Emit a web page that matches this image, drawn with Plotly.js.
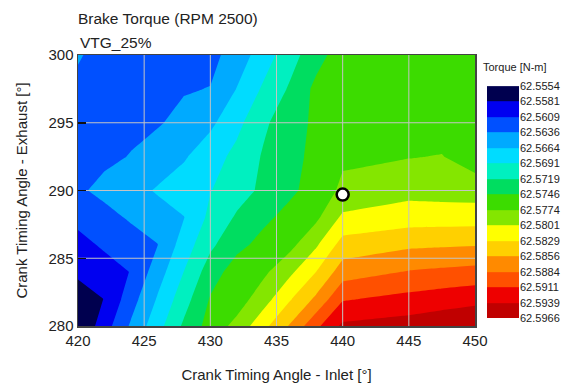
<!DOCTYPE html>
<html><head><meta charset="utf-8">
<script src="https://cdn.plot.ly/plotly-3.0.1.min.js"></script>
<style>html,body{margin:0;padding:0;background:#fff}#chart{width:565px;height:392px}</style>
</head><body><div id="chart"></div>
<script>
// grid of the map
const inletDeg = [420, 422, 424, 426, 428, 430, 432, 434, 436, 438, 440, 445, 447.5, 450];
const exhaustDeg = [280, 282, 284, 286, 288, 290, 292.5, 295, 297.5, 300];
// brake torque [N-m], one row per exhaust angle
const torque280   = [62.55540, 62.55966, 62.56402, 62.56809, 62.57235, 62.57573, 62.57820, 62.58204, 62.58586, 62.59048, 62.59440, 62.59514, 62.59578, 62.59646];
const torque282   = [62.55705, 62.55820, 62.56246, 62.56661, 62.57070, 62.57485, 62.57600, 62.57888, 62.58257, 62.58616, 62.59083, 62.59193, 62.59248, 62.59295];
const torque284   = [62.55859, 62.55980, 62.56098, 62.56507, 62.56916, 62.57325, 62.57600, 62.57677, 62.57949, 62.58287, 62.58699, 62.58853, 62.58891, 62.58927];
const torque286   = [62.56007, 62.56128, 62.56246, 62.56356, 62.56765, 62.57133, 62.57383, 62.57551, 62.57655, 62.57974, 62.58397, 62.58509, 62.58526, 62.58542];
const torque288   = [62.56158, 62.56276, 62.56397, 62.56521, 62.56630, 62.56982, 62.57224, 62.57400, 62.57553, 62.57682, 62.58067, 62.58158, 62.58163, 62.58166];
const torque290   = [62.56323, 62.56433, 62.56548, 62.56663, 62.56771, 62.56902, 62.57073, 62.57243, 62.57408, 62.57573, 62.57792, 62.57924, 62.57902, 62.57886];
const torque292_5 = [62.56254, 62.56312, 62.56375, 62.56493, 62.56611, 62.56787, 62.56993, 62.57213, 62.57369, 62.57542, 62.57696, 62.57726, 62.57748, 62.57600];
const torque295   = [62.56227, 62.56268, 62.56306, 62.56337, 62.56446, 62.56584, 62.56834, 62.57141, 62.57339, 62.57518, 62.57559, 62.57600, 62.57614, 62.57600];
const torque297_5 = [62.56295, 62.56309, 62.56323, 62.56337, 62.56342, 62.56372, 62.56647, 62.56952, 62.57221, 62.57531, 62.57573, 62.57600, 62.57600, 62.57600];
const torque300   = [62.56392, 62.56254, 62.56268, 62.56282, 62.56282, 62.56282, 62.56488, 62.56776, 62.57073, 62.57361, 62.57600, 62.57600, 62.57600, 62.57600];
const torqueRows = [torque280, torque282, torque284, torque286, torque288, torque290, torque292_5, torque295, torque297_5, torque300];

// contour levels shown on the colour key
const levelLabels = ['62.5554','62.5581','62.5609','62.5636','62.5664','62.5691','62.5719','62.5746','62.5774','62.5801','62.5829','62.5856','62.5884','62.5911','62.5939','62.5966'];
const bandColors = ['#00004f','#0000f0','#0050ff','#00aaff','#00dcff','#00f0c0','#00dd60','#3cdc00','#84e600','#ffff00','#ffd000','#ff8a00','#ff5000','#ee0000','#c00000'];

// axis ticks
const xTickVals = [420, 425, 430, 435, 440, 445, 450];
const yTickVals = [280, 285, 290, 295, 300];

// operating point
const opInlet = [440];
const opExhaust = [289.7];

const FONT = 'Liberation Sans, Arial, sans-serif';
const levels = levelLabels.map(Number);
const nBands = levels.length - 1;
const cStart = levels[0], cEnd = levels[nBands];
const cSize = (cEnd - cStart) / nBands;

const scale = [];
bandColors.forEach((c, j) => {
  const lo = j === 0 ? 0 : (j + 0.5) / (nBands + 1);
  const hi = j === nBands - 1 ? 1 : (j + 1.5) / (nBands + 1);
  scale.push([lo, c], [hi, c]);
});

const xR = [xTickVals[0], xTickVals[xTickVals.length - 1]];
const yR = [yTickVals[0], yTickVals[yTickVals.length - 1]];
const gx = [], gy = [];
xTickVals.slice(1, -1).forEach(t => { gx.push(t, t, null); gy.push(yR[0], yR[1], null); });
yTickVals.slice(1, -1).forEach(t => { gx.push(xR[0], xR[1], null); gy.push(t, t, null); });

const bandMid = levels.slice(0, -1).map(v => v + cSize / 2);

const traces = [
  {type: 'contour', x: inletDeg, y: exhaustDeg, z: torqueRows, autocontour: false,
   contours: {start: cStart, end: cEnd, size: cSize, coloring: 'fill', showlines: false},
   line: {width: 0, smoothing: 0}, colorscale: scale, showscale: false, hoverinfo: 'skip'},
  {type: 'scatter', mode: 'lines', x: gx, y: gy, line: {color: '#c4c4c4', width: 1}, hoverinfo: 'skip'},
  {type: 'scatter', mode: 'markers', x: opInlet, y: opExhaust,
   marker: {size: 12, color: '#ffffff', line: {color: '#000000', width: 2.5}}, hoverinfo: 'skip'},
  {type: 'heatmap', x: [0], y: bandMid, z: bandMid.map(v => [v]), xaxis: 'x2', yaxis: 'y2',
   colorscale: scale, zmin: cStart - cSize / 2, zmax: cStart + (nBands + 0.5) * cSize,
   showscale: false, hoverinfo: 'skip'}
];

const layout = {
  width: 565, height: 392,
  margin: {l: 78, r: 5, t: 55, b: 66},
  paper_bgcolor: '#ffffff', plot_bgcolor: '#ffffff',
  font: {family: FONT, size: 15, color: '#222222'},
  showlegend: false,
  title: {text: 'Brake Torque (RPM 2500)', xref: 'container', x: 78 / 565, xanchor: 'left',
          yref: 'container', y: 1 - 19 / 392, yanchor: 'middle', font: {size: 15.5, color: '#222222'}},
  xaxis: {domain: [0, 397 / 482], range: xR, tickvals: xTickVals, ticks: '', showgrid: false,
          zeroline: false, showline: true, mirror: true, linecolor: '#444444', linewidth: 1.5,
          layer: 'above traces', tickfont: {size: 15},
          title: {text: 'Crank Timing Angle - Inlet [°]', font: {size: 15}, standoff: 22}},
  yaxis: {range: yR, tickvals: yTickVals, ticks: 'inside', ticklen: 8, tickwidth: 1.5, tickcolor: '#111111',
          showgrid: false, zeroline: false, showline: true, mirror: true, linecolor: '#444444', linewidth: 1.5,
          layer: 'above traces', tickfont: {size: 15},
          title: {text: 'Crank Timing Angle - Exhaust [°]', font: {size: 15}, standoff: 17}},
  xaxis2: {domain: [409 / 482, 441 / 482], anchor: 'y2', range: [-0.5, 0.5], visible: false},
  yaxis2: {domain: [8 / 271, 240 / 271], anchor: 'x2', side: 'right', range: [cEnd, cStart],
           tickvals: levels, ticktext: levelLabels, ticks: '', showgrid: false, zeroline: false,
           showline: false, tickfont: {size: 11}},
  annotations: [
    {text: 'VTG_25%', xref: 'paper', yref: 'paper', x: 0, y: (326 - 43) / 271, xanchor: 'left', yanchor: 'middle',
     showarrow: false, font: {size: 15.5}},
    {text: 'Torque [N-m]', xref: 'paper', yref: 'paper', x: (481 - 78) / 482, y: (326 - 67) / 271,
     xanchor: 'left', yanchor: 'middle', showarrow: false, font: {size: 11}}
  ]
};

Plotly.newPlot('chart', traces, layout, {displayModeBar: false, staticPlot: true});
</script>
</body></html>
